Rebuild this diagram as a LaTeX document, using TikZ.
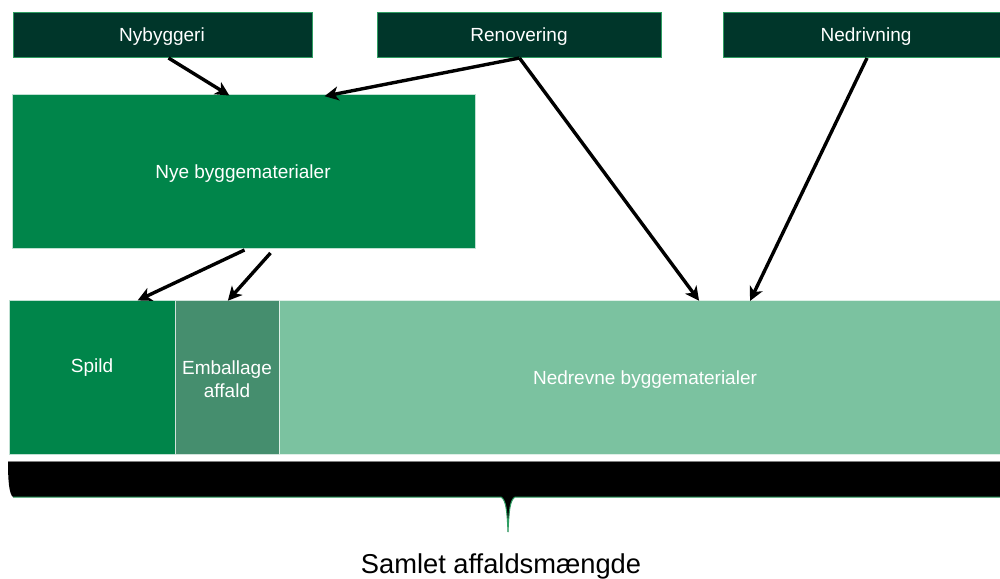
\documentclass[tikz,border=0pt]{standalone}
\usepackage{fontspec}
\setmainfont{Liberation Sans}
\usetikzlibrary{arrows.meta}
\definecolor{darkgreen}{HTML}{00362A}
\definecolor{edgegreen}{HTML}{2E9E62}
\definecolor{midgreen}{HTML}{00854A}
\definecolor{packgreen}{HTML}{458E6E}
\definecolor{lightgreen}{HTML}{7BC2A0}
\tikzset{
  topbox/.style={draw=edgegreen, line width=1pt, fill=darkgreen,
    minimum height=45pt, inner sep=0pt, anchor=north west},
  block/.style={fill=#1, draw=white!75!#1, line width=1pt, inner sep=0pt,
    minimum height=154pt, anchor=north west},
  lbl/.style={text=white, font=\fontsize{19}{23}\selectfont, inner sep=0pt,
    align=center},
  flow/.style={-{Stealth[length=14pt,width=14pt,inset=4pt]}, line width=3.4pt,
    black, shorten >=-1pt}
}
\begin{document}
\begin{tikzpicture}[x=1pt,y=-1pt]
  \clip (0,0) rectangle (1000,578);
  \fill[white] (0,0) rectangle (1000,578);

  % source activities
  \node[topbox, minimum width=299pt] (nyb) at (13,12) {};
  \node[topbox, minimum width=284pt] (ren) at (377,12) {};
  \node[topbox, minimum width=287pt] (ned) at (723,12) {};
  \node[lbl] (nybtxt) at (162,37) {Nybyggeri};
  \node[lbl] (rentxt) at (519,37) {Renovering};
  \node[lbl] (nedtxt) at (866,37) {Nedrivning};

  % new materials
  \node[block=midgreen, minimum width=463pt] (nye) at (12,94) {};
  \node[lbl] (nyetxt) at (243,173.5) {Nye byggematerialer};

  % waste fractions
  \node[block=midgreen, minimum width=166pt] (spild) at (9,300) {};
  \node[block=packgreen, minimum width=104pt] (emb) at (175,300) {};
  \node[block=lightgreen, minimum width=731pt] (nedr) at (279,300) {};
  \node[lbl] (spildtxt) at (92,367.5) {Spild};
  \node[lbl] (embtxt) at (227,379) {Emballage\\affald};
  \node[lbl] (nedrtxt) at (645,379.5) {Nedrevne byggematerialer};

  % flows
  \draw[flow] ([xshift=5.5pt]nyb.south) -- ([xshift=-15.5pt,yshift=-1pt]nye.north);
  \draw[flow] ([xshift=0pt]ren.south) -- ([xshift=81.5pt,yshift=-2pt]nye.north);
  \draw[flow] ([xshift=0pt]ren.south) -- ([xshift=53.5pt]nedr.north);
  \draw[flow] ([xshift=0pt]ned.south) -- ([xshift=105.5pt]nedr.north);
  \draw[flow] ([xshift=0.5pt,yshift=-1pt]nye.south) -- ([xshift=46pt]spild.north);
  \draw[flow] ([xshift=26.5pt,yshift=-4pt]nye.south) -- ([xshift=1pt]emb.north);

  % brace below the waste fractions
  \coordinate (btip) at (508,532);
  \fill[black] (8,461) -- (1000,461) -- (1000,497) -- (515,497)
    .. controls (510,500) and (509,510) .. (btip)
    .. controls (507,510) and (506,500) .. (501,497) -- (13,497)
    .. controls (9,494) and (8,480) .. cycle;
  \draw[gray, line width=0.8pt] (8,461) -- (1000,461);
  \draw[edgegreen, line width=1pt] (13,497) -- (501,497)
    .. controls (506,500) and (507,510) .. (btip)
    .. controls (509,510) and (510,500) .. (515,497) -- (1000,497);

  \node[font=\fontsize{27.3}{31}\selectfont, text=black, inner sep=0pt] (total) at (501,566) {Samlet affaldsmængde};
\end{tikzpicture}
\end{document}
